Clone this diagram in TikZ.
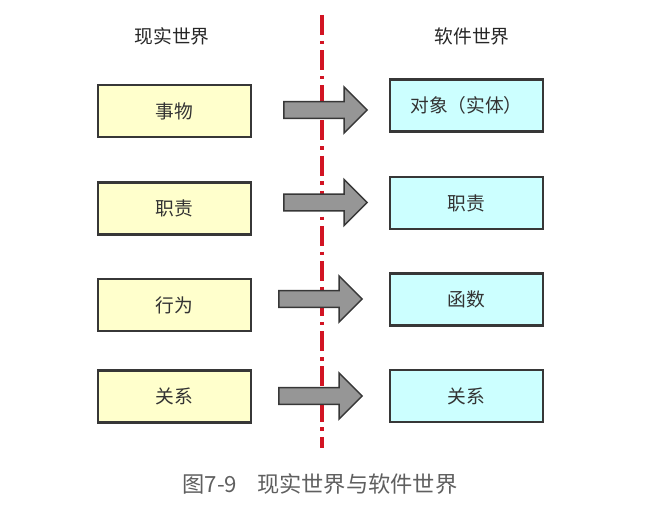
\documentclass[tikz,border=0pt]{standalone}
\usepackage{fontspec}
\newfontfamily\cjk{Noto Sans CJK SC}
\usepackage{tikz}
\usetikzlibrary{shapes.arrows,positioning}
\definecolor{realfill}{RGB}{255,255,204}
\definecolor{softfill}{RGB}{204,255,255}
\definecolor{edge}{RGB}{55,55,55}
\definecolor{shaft}{RGB}{150,150,150}
\definecolor{divide}{RGB}{210,20,35}
\definecolor{captext}{RGB}{95,95,95}
\tikzset{
  realbox/.style={draw=edge, fill=realfill, line width=1.8pt, minimum width=4.59cm, minimum height=1.56cm, font=\cjk\fontsize{16}{19}\selectfont, text=black!80},
  softbox/.style={realbox, fill=softfill},
  shiftarrow/.style={single arrow, draw=edge, fill=shaft, line width=1.3pt, inner sep=0pt, inner ysep=0.23cm, single arrow head extend=0.44cm, minimum height=2.5cm, anchor=west},
  title/.style={font=\cjk\fontsize{16}{19}\selectfont, text=black!85},
}
\begin{document}
\begin{tikzpicture}[x=0.03cm, y=-0.03cm]
  \useasboundingbox (0,0) rectangle (662,510);
  % the dividing line
  \coordinate (top) at (322,15);
  \coordinate (bottom) at (322,448);
  \draw[divide, line width=2.8pt, dash pattern=on 17pt off 5pt on 3pt off 5pt] (top) -- (bottom);
  \node[title] (real) at (172,36) {现实世界};
  \node[title] (soft) at (472,36) {软件世界};
  % real world
  \node[realbox] (r1) at (174.5,111) {事物};
  \node[realbox] (r2) at (174.5,208.5) {职责};
  \node[realbox] (r3) at (174.5,305) {行为};
  \node[realbox] (r4) at (174.5,396.5) {关系};
  % software world
  \node[softbox] (s1) at (466.5,105.5) {对象（实体）};
  \node[softbox] (s2) at (466.5,203) {职责};
  \node[softbox] (s3) at (466.5,299.5) {函数};
  \node[softbox] (s4) at (466.5,396) {关系};
  % arrows
  \node[shiftarrow] (a1) at (283,110) {};
  \node[shiftarrow] (a2) at (283,202.5) {};
  \node[shiftarrow] (a3) at (278,299) {};
  \node[shiftarrow] (a4) at (278,396) {};
  \node[font=\cjk\fontsize{19}{22}\selectfont, text=captext] (cap) at (320,484) {图7-9\hspace{0.9em}现实世界与软件世界};
\end{tikzpicture}
\end{document}
